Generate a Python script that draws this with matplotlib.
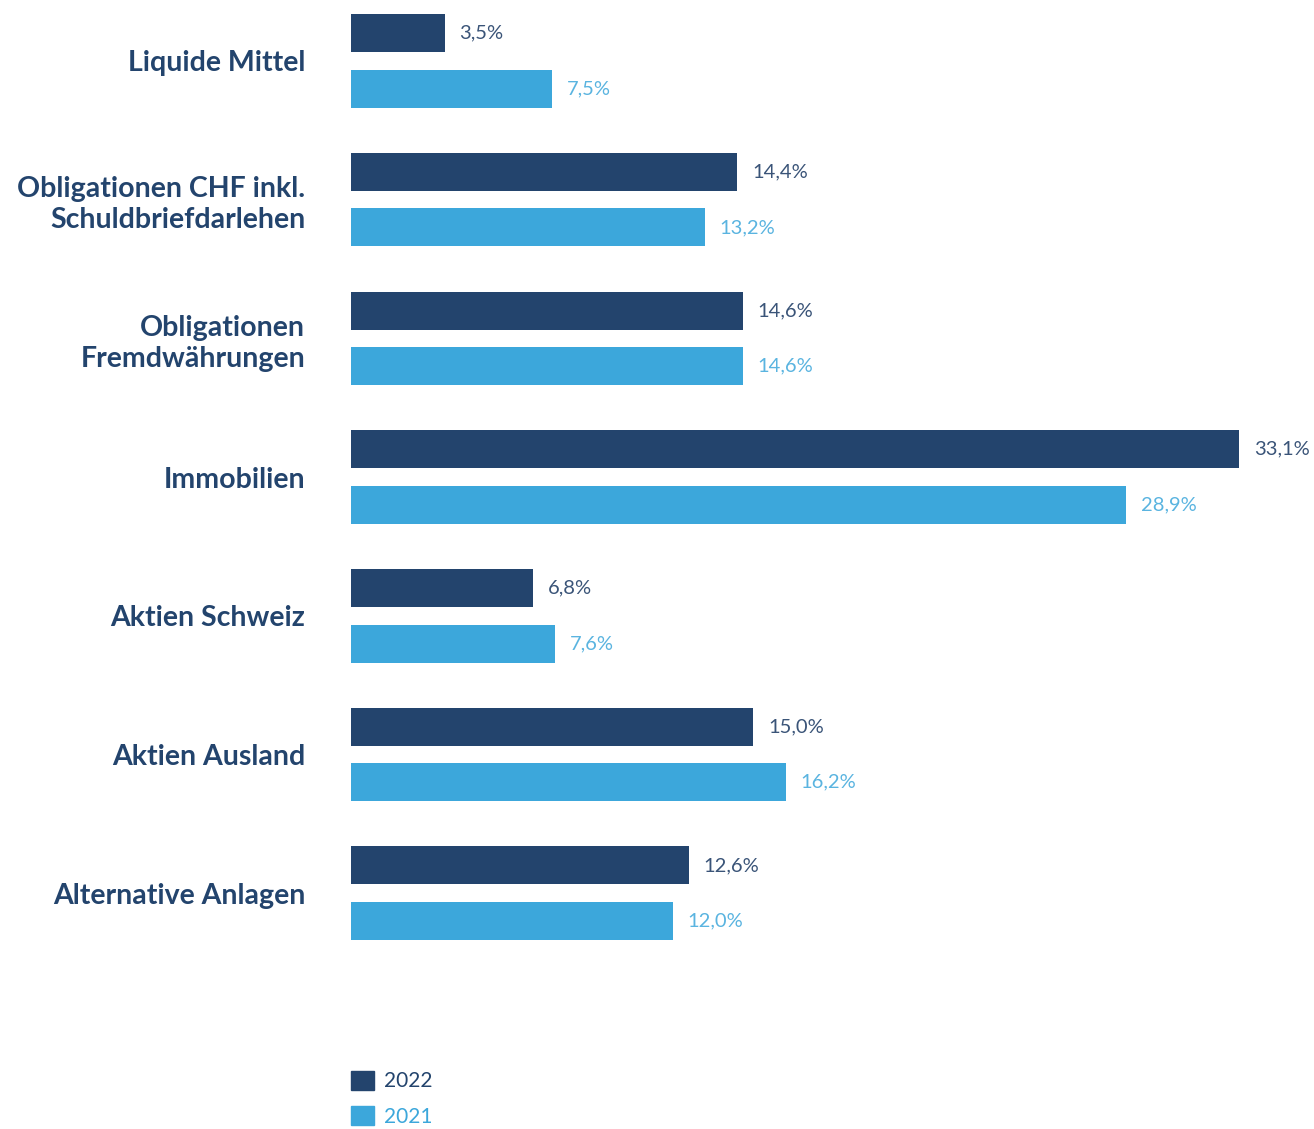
import numpy as np
import matplotlib.pyplot as plt
from matplotlib.patches import Patch

kategorien = ['Liquide Mittel', 'Obligationen CHF inkl.\nSchuldbriefdarlehen',
              'Obligationen\nFremdwährungen', 'Immobilien', 'Aktien Schweiz',
              'Aktien Ausland', 'Alternative Anlagen']
werte_2022 = [3.5, 14.4, 14.6, 33.1, 6.8, 15.0, 12.6]
werte_2021 = [7.5, 13.2, 14.6, 28.9, 7.6, 16.2, 12.0]
jahre = ['2022', '2021']

dunkel = '#23446d'
hell = '#3ca7db'

W, H = 1314, 1129
fig = plt.figure(figsize=(W / 100, H / 100), dpi=100)
# Achse beginnt bei x=351 px, volle Höhe
ax = fig.add_axes([351 / W, 0, 1 - 351 / W, 1])

pos = np.arange(len(kategorien))
off = 0.2
hoehe = 0.274
b1 = ax.barh(pos - off, werte_2022, height=hoehe, color=dunkel)
b2 = ax.barh(pos + off, werte_2021, height=hoehe, color=hell)

def fmt(v):
    return f"{v:.1f}".replace('.', ',') + '%'

for bars, farbe in [(b1, '#3a5478'), (b2, '#5ab4e0')]:
    ax.bar_label(bars, labels=[fmt(b.get_width()) for b in bars], padding=10.5,
                 color=farbe, fontsize=14.5, family='Lato', fontweight='normal')

ax.set_xlim(0, (W - 351) / 26.83)
ax.set_ylim((H - 61) / 138.7, -61 / 138.7)
ax.set_yticks(pos)
ax.set_yticklabels(kategorien, family='Lato', fontweight='bold', fontsize=20.5,
                   color=dunkel, linespacing=1.25)
ax.tick_params(axis='y', length=0, pad=33)
ax.set_xticks([])
for s in ax.spines.values():
    s.set_visible(False)

leg = ax.legend(handles=[Patch(color=dunkel), Patch(color=hell)], labels=jahre,
                loc='lower left', bbox_to_anchor=(0, 0.002), frameon=False,
                handlelength=1.1, handleheight=1.05, handletextpad=0.5,
                borderaxespad=0, borderpad=0, labelspacing=0.7,
                prop={'family': 'Lato', 'size': 15})
for t, c in zip(leg.get_texts(), [dunkel, hell]):
    t.set_color(c)

fig.savefig('out.png', dpi=100)
